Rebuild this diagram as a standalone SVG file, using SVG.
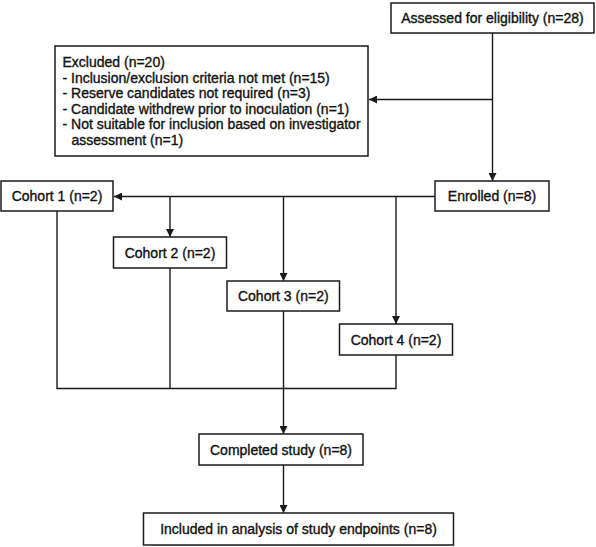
<svg xmlns="http://www.w3.org/2000/svg" width="596" height="547" viewBox="0 0 596 547">
<style>
.box{fill:#fff;stroke:#1a1a1a;stroke-width:1.5}
.ln{fill:none;stroke:#1a1a1a;stroke-width:1.4}
text{font-family:"Liberation Sans",Arial,sans-serif;font-size:14px;fill:#111;stroke:#111;stroke-width:0.35}
.c{text-anchor:middle}
</style>
<defs>
<marker id="ah" viewBox="0 0 10 10" refX="10" refY="5" markerWidth="8" markerHeight="8" markerUnits="userSpaceOnUse" orient="auto">
<path d="M0,0 L10,5 L0,10 z" fill="#1a1a1a"/>
</marker>
</defs>
<rect width="596" height="547" fill="#fff"/>
<g id="connectors">
<path class="ln" d="M492.5,33 V181" marker-end="url(#ah)"/>
<path class="ln" d="M492.5,99.5 H369" marker-end="url(#ah)"/>
<path class="ln" d="M435,196.5 H114" marker-end="url(#ah)"/>
<path class="ln" d="M170,196.5 V237" marker-end="url(#ah)"/>
<path class="ln" d="M283.5,196.5 V281" marker-end="url(#ah)"/>
<path class="ln" d="M396,196.5 V324" marker-end="url(#ah)"/>
<path class="ln" d="M57,211 V388.5 H396 V355"/>
<path class="ln" d="M170,268 V388.5"/>
<path class="ln" d="M283.5,311 V434" marker-end="url(#ah)"/>
<path class="ln" d="M283.5,465 V513" marker-end="url(#ah)"/>
</g>
<g id="assessed">
<rect class="box" x="391" y="3" width="203" height="30"/>
<text class="c" x="492.5" y="23">Assessed for eligibility (n=28)</text>
</g>
<g id="excluded">
<rect class="box" x="55" y="46" width="313" height="110"/>
<text x="62.5" y="67">Excluded (n=20)</text>
<text x="62.5" y="82.6">- Inclusion/exclusion criteria not met (n=15)</text>
<text x="62.5" y="98.2">- Reserve candidates not required (n=3)</text>
<text x="62.5" y="113.8">- Candidate withdrew prior to inoculation (n=1)</text>
<text x="62.5" y="129.4">- Not suitable for inclusion based on investigator</text>
<text x="71.5" y="145">assessment (n=1)</text>
</g>
<g id="enrolled">
<rect class="box" x="435" y="181" width="114" height="30"/>
<text class="c" x="492" y="201">Enrolled (n=8)</text>
</g>
<g id="cohort1">
<rect class="box" x="1" y="181" width="112" height="30"/>
<text class="c" x="57" y="201">Cohort 1 (n=2)</text>
</g>
<g id="cohort2">
<rect class="box" x="113.5" y="237" width="113" height="31"/>
<text class="c" x="170" y="257.5">Cohort 2 (n=2)</text>
</g>
<g id="cohort3">
<rect class="box" x="227" y="281" width="112.5" height="30"/>
<text class="c" x="283.3" y="301">Cohort 3 (n=2)</text>
</g>
<g id="cohort4">
<rect class="box" x="339.5" y="324" width="113" height="31"/>
<text class="c" x="396" y="344.5">Cohort 4 (n=2)</text>
</g>
<g id="completed">
<rect class="box" x="199" y="434" width="164" height="31"/>
<text class="c" x="281" y="454.5">Completed study (n=8)</text>
</g>
<g id="included">
<rect class="box" x="143.5" y="513" width="310" height="32"/>
<text class="c" x="298.5" y="534">Included in analysis of study endpoints (n=8)</text>
</g>
</svg>
